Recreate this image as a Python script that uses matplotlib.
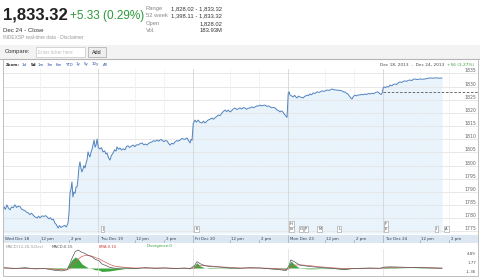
import numpy as np
import matplotlib.pyplot as plt
from matplotlib.patches import Rectangle

W, H = 480, 277

# ---- price data, one pair of lists per session ----
day_names = ['Wed Dec 18', 'Thu Dec 19', 'Fri Dec 20', 'Mon Dec 23', 'Tue Dec 24']
hour_labels = ['12 pm', '2 pm']
hour_times = ['12:00', '14:00']

t_dec18 = ['09:31', '09:34', '09:40', '09:46', '09:52', '09:59', '10:05', '10:12', '10:19', '10:26',
           '10:33', '10:40', '10:46', '10:52', '11:00', '11:07', '11:13', '11:20', '11:27', '11:33',
           '11:40', '11:50', '11:56', '12:02', '12:10', '12:18', '12:25', '12:31', '12:38', '12:45',
           '12:51', '12:57', '13:03', '13:09', '13:16', '13:22', '13:28', '13:35', '13:42', '13:50',
           '13:57', '14:01', '14:05', '14:09', '14:13', '14:17', '14:21', '14:26', '14:30', '14:34',
           '14:38', '14:42', '14:46', '14:50', '14:54', '14:58', '15:02', '15:07', '15:11', '15:15',
           '15:19', '15:23', '15:27', '15:31', '15:35', '15:40', '15:44', '15:48', '15:52', '15:56']
p_dec18 = [1783.0, 1784.4, 1783.4, 1785.1, 1783.9, 1783.2, 1784.3, 1784.0, 1785.1, 1784.1,
           1784.6, 1784.4, 1783.5, 1783.2, 1782.9, 1782.3, 1782.1, 1781.4, 1781.9, 1781.3,
           1780.6, 1780.1, 1780.8, 1780.1, 1780.9, 1780.7, 1781.0, 1780.5, 1779.8, 1780.2,
           1779.4, 1779.6, 1778.2, 1777.6, 1776.3, 1777.2, 1776.5, 1776.9, 1777.3, 1776.7,
           1778.2, 1782.0, 1789.6, 1791.0, 1793.8, 1788.1, 1790.0, 1789.5, 1791.9, 1791.9,
           1795.0, 1799.5, 1801.4, 1799.0, 1797.6, 1798.5, 1800.0, 1799.1, 1801.0, 1802.1,
           1805.2, 1804.0, 1803.3, 1805.0, 1806.0, 1808.0, 1809.7, 1807.0, 1807.8, 1810.1]

t_dec19 = ['09:31', '09:38', '09:44', '09:51', '09:57', '10:03', '10:07', '10:13', '10:19', '10:25',
           '10:32', '10:38', '10:44', '10:48', '10:54', '11:00', '11:07', '11:14', '11:21', '11:27',
           '11:33', '11:40', '11:47', '11:54', '12:01', '12:08', '12:14', '12:22', '12:31', '12:38',
           '12:45', '12:51', '12:58', '13:05', '13:12', '13:19', '13:25', '13:32', '13:40', '13:47',
           '13:53', '14:00', '14:07', '14:13', '14:20', '14:26', '14:33', '14:40', '14:46', '14:53',
           '15:00', '15:07', '15:13', '15:19', '15:27', '15:35', '15:41', '15:48', '15:52', '15:56']
p_dec19 = [1807.0, 1806.3, 1806.8, 1805.2, 1805.6, 1804.4, 1804.8, 1803.0, 1802.1, 1803.8,
           1804.8, 1806.0, 1805.5, 1807.1, 1806.2, 1806.7, 1805.9, 1806.4, 1806.0, 1807.3,
           1807.5, 1806.9, 1807.4, 1807.8, 1807.2, 1807.9, 1807.8, 1808.3, 1808.6, 1807.9,
           1808.2, 1807.8, 1808.5, 1808.8, 1809.0, 1809.5, 1809.2, 1809.7, 1809.3, 1809.9,
           1809.7, 1809.1, 1809.5, 1809.4, 1808.4, 1807.8, 1808.5, 1808.2, 1809.0, 1809.5,
           1809.3, 1809.7, 1810.3, 1810.1, 1810.0, 1810.5, 1809.6, 1808.6, 1810.0, 1809.6]

t_dec20 = ['09:31', '09:38', '09:44', '09:51', '09:59', '10:07', '10:13', '10:19', '10:26', '10:32',
           '10:40', '10:48', '10:54', '11:00', '11:07', '11:13', '11:21', '11:29', '11:35', '11:41',
           '11:48', '11:54', '12:02', '12:08', '12:14', '12:22', '12:30', '12:37', '12:43', '12:50',
           '12:57', '13:03', '13:10', '13:17', '13:24', '13:31', '13:38', '13:45', '13:52', '13:58',
           '14:05', '14:12', '14:19', '14:26', '14:33', '14:40', '14:46', '14:53', '15:00', '15:07',
           '15:14', '15:20', '15:27', '15:33', '15:39', '15:44', '15:48', '15:52', '15:56']
p_dec20 = [1816.0, 1817.3, 1816.5, 1817.3, 1816.4, 1816.2, 1816.9, 1816.2, 1816.8, 1817.3,
           1817.6, 1818.1, 1817.6, 1818.1, 1818.6, 1819.2, 1819.0, 1820.0, 1820.6, 1821.1,
           1820.5, 1821.1, 1820.4, 1820.8, 1821.4, 1821.9, 1821.3, 1821.6, 1821.9, 1821.5,
           1822.0, 1821.9, 1821.4, 1821.8, 1821.9, 1822.3, 1822.0, 1822.3, 1822.7, 1822.6,
           1823.0, 1822.7, 1822.9, 1823.0, 1822.5, 1822.7, 1822.3, 1822.0, 1822.1, 1821.9,
           1821.2, 1821.0, 1820.4, 1820.8, 1820.4, 1819.6, 1819.2, 1818.8, 1818.3]

t_dec23 = ['09:31', '09:35', '09:38', '09:44', '09:51', '09:57', '10:03', '10:07', '10:13', '10:19',
           '10:26', '10:32', '10:38', '10:44', '10:48', '10:54', '11:00', '11:07', '11:13', '11:21',
           '11:29', '11:38', '11:50', '11:58', '12:10', '12:20', '12:31', '12:40', '12:51', '13:00',
           '13:12', '13:20', '13:24', '13:30', '13:36', '13:42', '13:48', '13:53', '13:58', '14:05',
           '14:12', '14:19', '14:26', '14:33', '14:40', '14:46', '14:53', '15:00', '15:07', '15:14',
           '15:20', '15:27', '15:33', '15:39', '15:44', '15:48', '15:52', '15:56']
p_dec23 = [1827.6, 1828.0, 1826.9, 1826.5, 1826.1, 1826.7, 1826.0, 1825.7, 1826.4, 1826.1,
           1825.9, 1825.7, 1826.3, 1826.5, 1826.8, 1826.6, 1827.2, 1826.9, 1827.6, 1827.4,
           1828.0, 1827.8, 1828.4, 1828.2, 1828.7, 1828.6, 1829.1, 1828.8, 1828.7, 1828.6,
           1828.4, 1827.9, 1828.0, 1827.5, 1827.2, 1826.4, 1825.7, 1825.3, 1826.2, 1826.8,
           1826.5, 1826.9, 1826.8, 1827.1, 1826.9, 1827.2, 1827.0, 1827.4, 1827.2, 1827.5,
           1827.3, 1827.6, 1827.9, 1828.0, 1827.6, 1827.2, 1827.0, 1827.5]

t_dec24 = ['09:31', '09:34', '09:40', '09:46', '09:53', '09:59', '10:06', '10:12', '10:19', '10:26',
           '10:33', '10:40', '10:47', '10:53', '11:00', '11:07', '11:14', '11:21', '11:28', '11:35',
           '11:41', '11:50', '12:02', '12:12', '12:22', '12:32', '12:43', '12:53', '13:03', '13:14',
           '13:24', '13:32']
p_dec24 = [1829.5, 1829.9, 1829.6, 1830.0, 1829.9, 1830.6, 1830.3, 1830.8, 1831.0, 1830.8,
           1831.5, 1831.8, 1831.6, 1832.0, 1832.2, 1832.0, 1832.4, 1832.5, 1832.3, 1832.8,
           1832.9, 1832.7, 1832.9, 1832.8, 1832.9, 1833.1, 1833.3, 1833.2, 1833.3, 1833.3,
           1833.2, 1833.3]

prev_close = 1827.99
y_ticks = [1775, 1780, 1785, 1790, 1795, 1800, 1805, 1810, 1815, 1820, 1825, 1830, 1835]

# ---- MACD panel ----
m_times = [
    ['09:34', '10:19', '11:00', '11:41', '12:22', '13:03', '13:32', '13:53', '14:05', '14:13',
     '14:26', '14:38', '14:54', '15:07', '15:19', '15:35', '15:48'],
    ['09:34', '09:46', '10:03', '10:19', '10:40', '11:21', '12:02', '12:43', '13:24', '14:05',
     '14:46', '15:27', '15:48'],
    ['09:38', '09:46', '09:59', '10:19', '10:40', '11:21', '12:02', '12:43', '13:24', '14:05',
     '14:46', '15:27', '15:52'],
    ['09:34', '09:42', '09:59', '10:19', '11:00', '11:41', '12:43', '13:24', '13:45', '14:26',
     '15:07', '15:48'],
    ['09:34', '09:59', '10:40', '11:21', '12:02', '12:43', '13:32'],
]
macd = [
    [0.1, -0.2, 0.1, -0.3, -0.2, -0.8, -1.0, -0.6, 1.5, 3.3, 5.6, 6.2, 5.4, 5.0, 4.4, 3.9, 3.0],
    [2.5, 1.4, 0.8, 0.2, -0.1, 0.0, -0.2, 0.1, -0.1, 0.0, -0.2, 0.0, -0.3],
    [1.0, 2.2, 1.5, 0.8, 0.5, 0.3, 0.0, -0.1, 0.1, 0.0, -0.3, -0.6, -0.9],
    [0.8, 2.8, 2.0, 1.0, 0.5, 0.2, -0.2, -0.6, -0.3, -0.1, 0.0, -0.1],
    [0.3, 0.4, 0.3, 0.2, 0.1, 0.0, -0.1],
]
ema = [
    [0.0, -0.1, -0.1, -0.2, -0.2, -0.4, -0.6, -0.6, -0.2, 0.5, 1.8, 3.0, 4.0, 4.3, 4.3, 4.1, 3.6],
    [3.2, 2.6, 1.9, 1.2, 0.6, 0.2, 0.0, 0.0, 0.0, 0.0, -0.1, -0.1, -0.1],
    [0.0, 0.4, 0.8, 0.8, 0.7, 0.4, 0.2, 0.0, 0.0, 0.0, -0.1, -0.3, -0.5],
    [-0.3, 0.4, 1.0, 1.1, 0.8, 0.4, 0.0, -0.2, -0.2, -0.2, -0.1, -0.1],
    [0.0, 0.1, 0.2, 0.2, 0.2, 0.1, 0.0],
]
divergence = [
    [0.1, -0.1, 0.2, -0.1, 0.0, -0.4, -0.4, 0.0, 1.7, 2.8, 3.8, 3.2, 1.4, 0.7, 0.1, -0.2, -0.6],
    [-0.7, -1.2, -1.1, -1.0, -0.7, -0.2, -0.2, 0.1, -0.1, 0.0, -0.1, 0.1, -0.2],
    [1.0, 1.8, 0.7, 0.0, -0.2, -0.1, -0.2, -0.1, 0.1, 0.0, -0.2, -0.3, -0.4],
    [1.1, 2.4, 1.0, -0.1, -0.3, -0.2, -0.2, -0.4, -0.1, 0.1, 0.1, 0.0],
    [0.3, 0.3, 0.1, 0.0, -0.1, -0.1, -0.1],
]
macd_labels = [4.89, 1.77, -1.36]

# ---- news flags ----
flag_day = [1, 2, 3, 3, 3, 3, 3, 4, 4, 4, 3, 4]
flag_time = ['09:48', '09:44', '09:44', '10:23', '10:44', '11:41', '13:00', '09:42', '13:10', '13:51', '09:44', '09:42']
flag_text = ['J', 'K', 'N', 'O', 'P', 'M', 'L', 'E', 'I', 'A', 'H', 'F']
flag_row = [0, 0, 0, 0, 0, 0, 0, 0, 0, 0, 1, 1]


def pos(day, hhmm):
    h, m = hhmm.split(':')
    return day * 6.5 + int(h) + int(m) / 60 - 9.5


def fx(px):
    return px / W


def fy(py):
    return 1 - py / H


def txt(px, py, s, **kw):
    kw.setdefault('family', 'Liberation Sans')
    kw.setdefault('va', 'center')
    fig.text(fx(px), fy(py), s, **kw)


fig = plt.figure(figsize=(4.8, 2.77), dpi=100)
fig.patch.set_facecolor('white')

# header
txt(3, 15.5, '1,833.32', fontsize=12, weight='bold', color='#222')
txt(70, 16, '+5.33 (0.29%)', fontsize=8.5, color='#2a9a3a')
txt(3, 30, 'Dec 24 - Close', fontsize=4.4, color='#333')
txt(3, 37.5, 'INDEXSP real-time data - Disclaimer', fontsize=3.5, color='#999')
stat_names = ['Range', '52 week', 'Open', 'Vol.']
stat_vals = ['1,828.02 - 1,833.32', '1,398.11 - 1,833.32', '1,828.02', '183.93M']
for i, (n, v) in enumerate(zip(stat_names, stat_vals)):
    txt(146, 8.5 + 7.4 * i, n, fontsize=4.2, color='#888')
    txt(222, 8.5 + 7.4 * i, v, fontsize=4.2, color='#333', ha='right')

# compare bar
fig.patches.append(Rectangle((0, fy(58.5)), 1, 13.5 / H, transform=fig.transFigure,
                             fc='#f3f3f3', ec='none'))
fig.lines.append(plt.Line2D([0, 1], [fy(58.5)] * 2, transform=fig.transFigure, color='#b8b8b8', lw=0.8))
txt(5, 52, 'Compare:', fontsize=4.2, color='#333')
fig.patches.append(Rectangle((fx(36), fy(56.5)), 49 / W, 9 / H, transform=fig.transFigure,
                             fc='white', ec='#c4c4c4', lw=0.5))
txt(38, 52, 'Enter ticker here', fontsize=3.3, color='#c0c0c0')
fig.patches.append(Rectangle((fx(87.5), fy(57)), 18.5 / W, 10 / H, transform=fig.transFigure,
                             fc='#eeeeee', ec='#a8a8a8', lw=0.5))
txt(96.7, 52, 'Add', fontsize=3.9, color='#222', ha='center')

# chart frame
fig.patches.append(Rectangle((fx(3), fy(276)), 475 / W, 217 / H, transform=fig.transFigure,
                             fc='none', ec='#b5b5b5', lw=0.6, zorder=10))
zoom_items = ['1d', '5d', '1m', '3m', '6m', 'YTD', '1y', '5y', '10y', 'All']
zoom_x = [22, 31, 38, 47, 56, 65, 76, 84, 92, 103]
txt(6, 64.5, 'Zoom:', fontsize=2.9, color='#333', weight='bold', family='DejaVu Sans')
for s, x in zip(zoom_items, zoom_x):
    if s == '5d':
        txt(x, 64.5, s, fontsize=2.9, color='#222', weight='bold', family='DejaVu Sans')
    else:
        txt(x, 64.5, s, fontsize=2.9, color='#2a55b0', family='DejaVu Sans')
txt(444, 65, 'Dec 18, 2013  -  Dec 24, 2013', fontsize=3.1, color='#444', ha='right', family='DejaVu Sans')
txt(447, 65, '+56 (3.27%)', fontsize=3.1, color='#3a9a3a', family='DejaVu Sans')

# main price axes
ax = fig.add_axes([fx(3), fy(233), 475 / W, 164 / H])
x_end = 32.5
ax.set_xlim(0, x_end)
ax.set_ylim(1774.4, 1836.7)
for sp in ax.spines.values():
    sp.set_visible(False)
ax.set_xticks([])
ax.set_yticks([])

for v in y_ticks:
    ax.axhline(v, color='#e4e4e4', lw=0.6, zorder=2)
    ax.text(32.36, v + 0.95, str(v), ha='right', va='center', fontsize=3.3, color='#666', zorder=5)
for d in range(5):
    if d > 0:
        ax.axvline(d * 6.5, color='#d4d4d4', lw=0.6, zorder=2)
    for t in hour_times:
        ax.axvline(pos(d, t), color='#f1f1f1', lw=0.6, zorder=2)

t_all = [t_dec18, t_dec19, t_dec20, t_dec23, t_dec24]
p_all = [p_dec18, p_dec19, p_dec20, p_dec23, p_dec24]
xs = np.array([pos(d, t) for d, ts in enumerate(t_all) for t in ts])
ys = np.array([p for ps in p_all for p in ps])
ax.fill_between(xs, ys, 1774.4, color='#e9f3fc', lw=0, zorder=1)
ax.plot(xs, ys, color='#4f82bd', lw=0.7, zorder=4)
ax.plot([4 * 6.5, x_end], [prev_close] * 2, color='#555', lw=0.6, ls=(0, (3, 2)), zorder=3)

row_y = [0.026, 0.057]
for d, t, s, r in zip(flag_day, flag_time, flag_text, flag_row):
    ax.text(pos(d, t), row_y[r], s, transform=ax.get_xaxis_transform(), ha='center', va='center',
            fontsize=2.6, color='#333', zorder=6,
            bbox=dict(boxstyle='square,pad=0.25', fc='white', ec='#999', lw=0.4))

# date strip
sx = fig.add_axes([fx(3), fy(243), 475 / W, 8.5 / H])
sx.set_facecolor('#dde7f2')
sx.set_xlim(0, x_end)
sx.set_ylim(0, 1)
sx.set_xticks([])
sx.set_yticks([])
for sp in sx.spines.values():
    sp.set_visible(False)
for d, name in enumerate(day_names):
    sx.text(d * 6.5 + 0.12, 0.45, name, fontsize=2.9, color='#2d3a55', va='center', family='DejaVu Sans')
    sx.plot([d * 6.5] * 2, [0, 1], color='#8a9bb5', lw=0.4)
    for lab, t in zip(hour_labels, hour_times):
        sx.text(pos(d, t) + 0.12, 0.45, lab, fontsize=2.9, color='#2d3a55', va='center', family='DejaVu Sans')
        sx.plot([pos(d, t)] * 2, [0, 0.35], color='#8a9bb5', lw=0.4)

# macd panel
txt(6, 246.5, 'MACD(12,26,9,Dec)', fontsize=2.8, color='#999', family='DejaVu Sans')
txt(52, 246.5, 'MACD:0.15', fontsize=2.8, color='#555', family='DejaVu Sans')
txt(99, 246.5, 'EMA:0.16', fontsize=2.8, color='#cc4444', family='DejaVu Sans')
txt(147, 246.5, 'Divergence:0', fontsize=2.8, color='#3a9a3a', family='DejaVu Sans')

mx = fig.add_axes([fx(3), fy(276), 475 / W, 27 / H])
mx.set_xlim(0, x_end)
mx.set_ylim(-2.76, 6.55)
mx.set_xticks([])
mx.set_yticks([])
for sp in mx.spines.values():
    sp.set_visible(False)
mx.patch.set_alpha(0)
for d in range(1, 5):
    mx.axvline(d * 6.5, color='#dddddd', lw=0.5)
mxs = np.array([pos(d, t) for d, ts in enumerate(m_times) for t in ts])
mm = np.array([v for vs in macd for v in vs])
me = np.array([v for vs in ema for v in vs])
md = np.array([v for vs in divergence for v in vs])
mx.fill_between(mxs, md, 0, color='#3fa63f', lw=0)
mx.plot(mxs, me, color='#d46060', lw=0.5)
mx.plot(mxs, mm, color='#555555', lw=0.5)
for v in macd_labels:
    mx.text(32.36, v, f'{v:.2f}', ha='right', va='center', fontsize=2.9, color='#555', family='DejaVu Sans')

fig.savefig('out.png', dpi=100, facecolor='white')
